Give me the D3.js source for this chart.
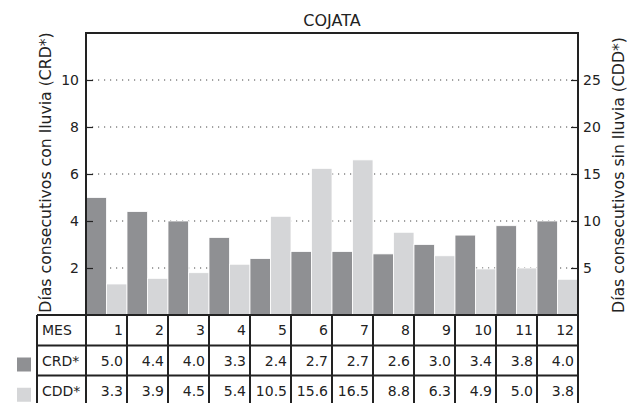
<!DOCTYPE html>
<html>
<head>
<meta charset="utf-8">
<script src="https://cdn.jsdelivr.net/npm/d3@7"></script>
<style>
  body { margin: 0; background: #fff; }
  text { font-family: "DejaVu Sans", sans-serif; fill: #222; }
</style>
</head>
<body>
<div id="chart"></div>
<script>
// data
const months = ["1", "2", "3", "4", "5", "6", "7", "8", "9", "10", "11", "12"];
const crd = [5.0, 4.4, 4.0, 3.3, 2.4, 2.7, 2.7, 2.6, 3.0, 3.4, 3.8, 4.0];
const cdd = [3.3, 3.9, 4.5, 5.4, 10.5, 15.6, 16.5, 8.8, 6.3, 4.9, 5.0, 3.8];
const leftTicks = [2, 4, 6, 8, 10];
const rightTicks = [5, 10, 15, 20, 25];
const rowLabels = ["MES", "CRD*", "CDD*"];

const width = 627, height = 403;
const margin = { top: 33, right: 49, bottom: 88, left: 86 };
const plotBottom = height - margin.bottom;   // 315
const plotRight = width - margin.right;      // 578
const darkColor = "#8f9093", lightColor = "#d5d6d8", lineColor = "#222";

const svg = d3.select("#chart")
    .append("svg")
    .attr("width", width)
    .attr("height", height);

const x = d3.scaleBand()
    .domain(months)
    .range([margin.left, plotRight])
    .paddingInner(0);

const xSub = d3.scaleBand()
    .domain(["crd", "cdd"])
    .range([0, x.bandwidth()]);

const yLeft = d3.scaleLinear().domain([0, 12]).range([plotBottom, margin.top]);
const yRight = d3.scaleLinear().domain([0, 30]).range([plotBottom, margin.top]);

// dotted grid lines
svg.append("g")
    .selectAll("line")
    .data(leftTicks)
    .join("line")
    .attr("x1", margin.left)
    .attr("x2", plotRight)
    .attr("y1", d => yLeft(d))
    .attr("y2", d => yLeft(d))
    .attr("stroke", "#444")
    .attr("stroke-width", 1)
    .attr("stroke-dasharray", "1.2,4.8");

// bars
const groups = svg.append("g")
    .selectAll("g")
    .data(months)
    .join("g")
    .attr("transform", d => `translate(${x(d)},0)`);

groups.append("rect")
    .attr("x", xSub("crd"))
    .attr("width", xSub.bandwidth())
    .attr("y", (d, i) => yLeft(crd[i]))
    .attr("height", (d, i) => plotBottom - yLeft(crd[i]))
    .attr("fill", darkColor)
    .attr("stroke", "#fff")
    .attr("stroke-width", 0.8);

groups.append("rect")
    .attr("x", xSub("cdd"))
    .attr("width", xSub.bandwidth())
    .attr("y", (d, i) => yRight(cdd[i]))
    .attr("height", (d, i) => plotBottom - yRight(cdd[i]))
    .attr("fill", lightColor)
    .attr("stroke", "#fff")
    .attr("stroke-width", 0.8);

// axes (ticks inside)
const leftAxis = d3.axisLeft(yLeft).tickValues(leftTicks).tickSizeInner(-7).tickSizeOuter(0).tickPadding(7);
const gl = svg.append("g")
    .attr("transform", `translate(${margin.left},0)`)
    .call(leftAxis);

const rightAxis = d3.axisRight(yRight).tickValues(rightTicks).tickSizeInner(-7).tickSizeOuter(0).tickPadding(5);
const gr = svg.append("g")
    .attr("transform", `translate(${plotRight},0)`)
    .call(rightAxis);

[gl, gr].forEach(g => {
    g.select(".domain").remove();
    g.selectAll(".tick line").attr("stroke", lineColor).attr("stroke-width", 1.2);
    g.selectAll(".tick text")
        .attr("font-size", 14)
        .attr("font-family", "DejaVu Sans, sans-serif")
        .attr("fill", "#222");
});

// frame
svg.append("rect")
    .attr("x", margin.left)
    .attr("y", margin.top)
    .attr("width", plotRight - margin.left)
    .attr("height", plotBottom - margin.top)
    .attr("fill", "none")
    .attr("stroke", lineColor)
    .attr("stroke-width", 2);

// title
svg.append("text")
    .text("COJATA")
    .attr("x", (margin.left + plotRight) / 2)
    .attr("y", 26)
    .attr("text-anchor", "middle")
    .attr("font-size", 16);

// axis labels
svg.append("text")
    .text("Días consecutivos con lluvia (CRD*)")
    .attr("transform", "translate(51, 172.5) rotate(-90)")
    .attr("text-anchor", "middle")
    .attr("font-size", 15.7);

svg.append("text")
    .text("Días consecutivos sin lluvia (CDD*)")
    .attr("transform", "translate(624, 175) rotate(-90)")
    .attr("text-anchor", "middle")
    .attr("font-size", 15.7);

// table below the chart
const tableLeft = 37;
const rowY = [plotBottom, 345.5, 375.5, 406];
const table = svg.append("g");

const rowValues = [months, crd.map(d => d.toFixed(1)), cdd.map(d => d.toFixed(1))];

rowValues.forEach((vals, r) => {
    const cy = (rowY[r] + rowY[r + 1]) / 2 + 5;
    table.append("text")
        .text(rowLabels[r])
        .attr("x", tableLeft + 5)
        .attr("y", cy)
        .attr("font-size", 14);
    table.selectAll(null)
        .data(vals)
        .join("text")
        .text(d => d)
        .attr("x", (d, i) => x(months[i]) + x.bandwidth() - 4)
        .attr("y", cy)
        .attr("text-anchor", "end")
        .attr("font-size", 14);
});

// table grid lines
table.selectAll(".hline")
    .data(rowY.slice(0, 3))
    .join("line")
    .attr("x1", tableLeft)
    .attr("x2", plotRight)
    .attr("y1", d => d)
    .attr("y2", d => d)
    .attr("stroke", lineColor)
    .attr("stroke-width", 2);

const vx = [tableLeft].concat(months.map(m => x(m)), [plotRight]);
table.selectAll(".vline")
    .data(vx)
    .join("line")
    .attr("x1", d => d)
    .attr("x2", d => d)
    .attr("y1", plotBottom)
    .attr("y2", height)
    .attr("stroke", lineColor)
    .attr("stroke-width", 2);

// legend squares next to the table rows
const legendColors = [darkColor, lightColor];
svg.append("g")
    .selectAll("rect")
    .data(legendColors)
    .join("rect")
    .attr("x", 17)
    .attr("y", (d, i) => (rowY[i + 1] + rowY[i + 2]) / 2 - 3)
    .attr("width", 14)
    .attr("height", 14)
    .attr("fill", d => d);
</script>
</body>
</html>
